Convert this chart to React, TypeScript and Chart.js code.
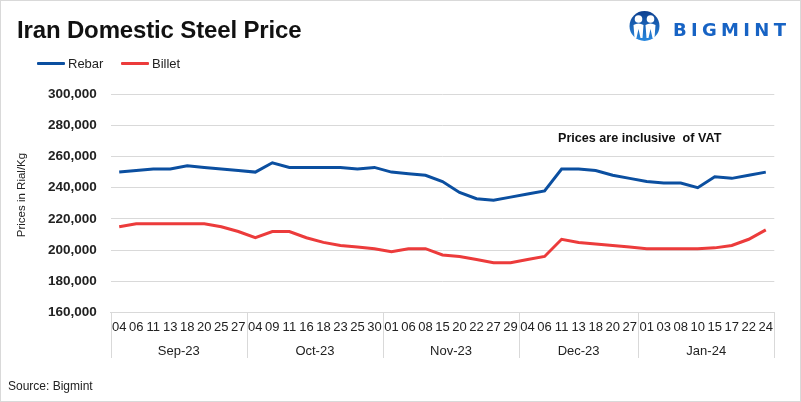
import React, { useEffect, useRef } from "react";
import { Chart, registerables } from "chart.js";

Chart.register(...registerables);

const dayLabels: string[] = [
  "04", "06", "11", "13", "18", "20", "25", "27",
  "04", "09", "11", "16", "18", "23", "25", "30",
  "01", "06", "08", "15", "20", "22", "27", "29",
  "04", "06", "11", "13", "18", "20", "27",
  "01", "03", "08", "10", "15", "17", "22", "24",
];
const monthLabels: string[] = ["Sep-23", "Oct-23", "Nov-23", "Dec-23", "Jan-24"];
const monthCounts: number[] = [8, 8, 8, 7, 8];

const rebar: number[] = [
  250000, 251000, 252000, 252000, 254000, 253000, 252000, 251000,
  250000, 256000, 253000, 253000, 253000, 253000, 252000, 253000,
  250000, 249000, 248000, 244000, 237000, 233000, 232000, 234000,
  236000, 238000, 252000, 252000, 251000, 248000, 246000,
  244000, 243000, 243000, 240000, 247000, 246000, 248000, 250000,
];
const billet: number[] = [
  215000, 217000, 217000, 217000, 217000, 217000, 215000, 212000,
  208000, 212000, 212000, 208000, 205000, 203000, 202000, 201000,
  199000, 201000, 201000, 197000, 196000, 194000, 192000, 192000,
  194000, 196000, 207000, 205000, 204000, 203000, 202000,
  201000, 201000, 201000, 201000, 201500, 203000, 207000, 213000,
];

const yMin = 160000;
const yMax = 300000;
const yStep = 20000;

const FONT = "'Liberation Sans', Arial, sans-serif";
const REBAR_COLOR = "#0b4fa0";
const BILLET_COLOR = "#ec3b3b";
const GRID = "#d9d9d9";

export default function App() {
  const canvasRef = useRef<HTMLCanvasElement | null>(null);

  useEffect(() => {
    document.body.style.margin = "0";
    const canvas = canvasRef.current;
    if (!canvas) return;

    const monthPlugin = {
      id: "monthPlugin",
      afterDraw(chart: any) {
        const { ctx, chartArea } = chart;
        const n = dayLabels.length;
        const w = (chartArea.right - chartArea.left) / n;
        ctx.save();
        ctx.strokeStyle = GRID;
        ctx.lineWidth = 1;
        let idx = 0;
        const bounds: number[] = [0];
        monthCounts.forEach((c) => {
          idx += c;
          bounds.push(idx);
        });
        bounds.forEach((b) => {
          const x = Math.round(chartArea.left + b * w) + 0.5;
          ctx.beginPath();
          ctx.moveTo(x, chartArea.bottom);
          ctx.lineTo(x, 358);
          ctx.stroke();
        });
        ctx.fillStyle = "#222";
        ctx.font = `13px ${FONT}`;
        ctx.textAlign = "center";
        ctx.textBaseline = "middle";
        for (let i = 0; i < monthLabels.length; i++) {
          const x = chartArea.left + ((bounds[i] + bounds[i + 1]) / 2) * w;
          ctx.fillText(monthLabels[i], x, 351);
        }
        // y-axis title
        ctx.translate(22, 195);
        ctx.rotate(-Math.PI / 2);
        ctx.font = `11.5px ${FONT}`;
        ctx.fillStyle = "#222";
        ctx.fillText("Prices in Rial/Kg", 0, 0);
        ctx.restore();
      },
    };

    const chart = new Chart(canvas, {
      type: "line",
      data: {
        labels: dayLabels,
        datasets: [
          {
            label: "Rebar",
            data: rebar,
            borderColor: REBAR_COLOR,
            backgroundColor: REBAR_COLOR,
            borderWidth: 3,
            pointRadius: 0,
            tension: 0,
          },
          {
            label: "Billet",
            data: billet,
            borderColor: BILLET_COLOR,
            backgroundColor: BILLET_COLOR,
            borderWidth: 3,
            pointRadius: 0,
            tension: 0,
          },
        ],
      },
      options: {
        responsive: false,
        animation: false,
        devicePixelRatio: 1,
        layout: { padding: { left: 0, right: 26.7, top: 94, bottom: 0 } },
        plugins: {
          legend: { display: false },
          title: { display: false },
          tooltip: { enabled: false },
        },
        scales: {
          x: {
            type: "category",
            offset: true,
            grid: { display: false, drawTicks: false },
            border: { display: true, color: GRID, width: 1 },
            ticks: {
              autoSkip: false,
              maxRotation: 0,
              minRotation: 0,
              padding: 7,
              color: "#222",
              font: { family: FONT, size: 13 },
            },
            afterFit: (scale: any) => {
              scale.height = 89.3;
            },
          },
          y: {
            min: yMin,
            max: yMax,
            ticks: {
              stepSize: yStep,
              padding: 14,
              color: "#222",
              font: { family: FONT, size: 13.5, weight: "bold" },
            },
            grid: { color: GRID, drawTicks: false, lineWidth: 1 },
            border: { display: false },
            afterFit: (scale: any) => {
              scale.width = 110.7;
            },
          },
        },
      },
      plugins: [monthPlugin],
    } as any);

    return () => {
      chart.destroy();
    };
  }, []);

  const legendItem = (left: number, color: string, text: string) => (
    <div style={{ position: "absolute", left, top: 54, height: 16, display: "flex", alignItems: "center" }}>
      <div style={{ width: 28, height: 3, background: color, borderRadius: 1 }} />
      <span style={{ marginLeft: 3, fontSize: 13, color: "#222", fontFamily: FONT }}>{text}</span>
    </div>
  );

  return (
    <div
      style={{
        position: "absolute",
        left: 0,
        top: 0,
        width: 801,
        height: 402,
        boxSizing: "border-box",
        border: `1px solid ${GRID}`,
        background: "#fff",
        overflow: "hidden",
        fontFamily: FONT,
      }}
    >
      <canvas
        ref={canvasRef}
        width={801}
        height={402}
        style={{ position: "absolute", left: -1, top: -1, width: 801, height: 402 }}
      />
      <div
        style={{
          position: "absolute",
          left: 16,
          top: 15,
          fontSize: 24,
          fontWeight: "bold",
          color: "#111",
          letterSpacing: -0.15,
          whiteSpace: "nowrap",
        }}
      >
        Iran Domestic Steel Price
      </div>
      {legendItem(36, REBAR_COLOR, "Rebar")}
      {legendItem(120, BILLET_COLOR, "Billet")}
      <div
        style={{
          position: "absolute",
          left: 557,
          top: 130,
          fontSize: 12.6,
          fontWeight: "bold",
          color: "#111",
          whiteSpace: "pre",
        }}
      >
        {"Prices are inclusive  of VAT"}
      </div>
      <div style={{ position: "absolute", left: 7, top: 378, fontSize: 12, color: "#222" }}>Source: Bigmint</div>
      <svg
        style={{ position: "absolute", left: 626, top: 9 }}
        width={36}
        height={33}
        viewBox="0 0 36 33"
      >
        <defs>
          <linearGradient id="lg" x1="0" y1="0" x2="0" y2="1">
            <stop offset="0" stopColor="#0d3f8f" />
            <stop offset="1" stopColor="#2a8ae0" />
          </linearGradient>
        </defs>
        <circle cx="17.5" cy="16" r="15" fill="url(#lg)" />
        <circle cx="11.5" cy="9" r="3.8" fill="#fff" />
        <circle cx="23.5" cy="9" r="3.8" fill="#fff" />
        <path d="M6.5 15 Q11.5 12 16.5 15 L15.5 28 L13.5 28 L11.5 19 L9.5 28 L7.5 28 Z" fill="#fff" />
        <path d="M18.5 15 Q23.5 12 28.5 15 L27.5 28 L25.5 28 L23.5 19 L21.5 28 L19.5 28 Z" fill="#fff" />
      </svg>
      <div
        style={{
          position: "absolute",
          left: 672,
          top: 18,
          fontSize: 18,
          fontWeight: "bold",
          letterSpacing: 4.3,
          color: "#1763c4",
          fontFamily: "'DejaVu Sans', sans-serif",
          whiteSpace: "nowrap",
          lineHeight: "21px",
        }}
      >
        BIGMINT
      </div>
    </div>
  );
}
